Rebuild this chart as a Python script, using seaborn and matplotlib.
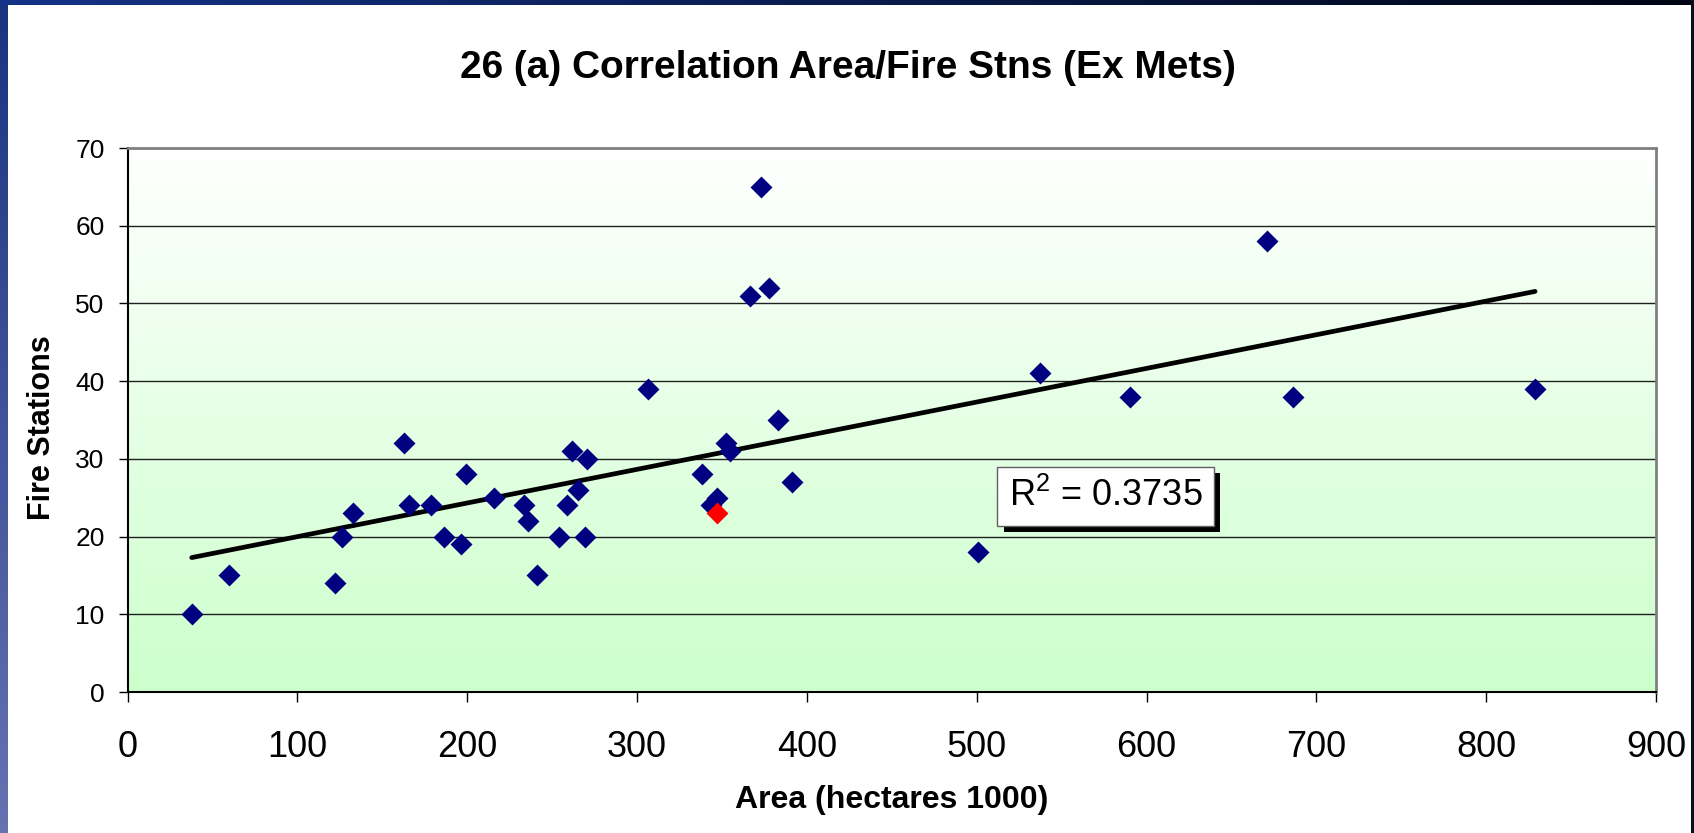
import numpy as np
import pandas as pd
import matplotlib
matplotlib.use("Agg")
import matplotlib.pyplot as plt
import seaborn as sns
from matplotlib import patheffects as pe

# ---------------- data ----------------
area = [37.8, 59.6, 122.4, 126.1, 132.6, 163.0, 165.8, 178.5, 186.2, 196.4,
        199.1, 215.6, 233.5, 236.1, 241.1, 253.9, 259.0, 261.6, 265.5, 269.5,
        270.6, 306.5, 338.5, 343.6, 347.3, 352.2, 354.8, 366.5, 373.0, 377.9,
        383.2, 391.1, 500.6, 537.5, 590.3, 671.1, 686.4, 828.8]
stations = [10, 15, 14, 20, 23, 32, 24, 24, 20, 19,
            28, 25, 24, 22, 15, 20, 24, 31, 26, 20,
            30, 39, 28, 24, 25, 32, 31, 51, 65, 52,
            35, 27, 18, 41, 38, 58, 38, 39]
highlight_area = [347.3]
highlight_stations = [23]

x_ticks = [0, 100, 200, 300, 400, 500, 600, 700, 800, 900]
y_ticks = [0, 10, 20, 30, 40, 50, 60, 70]

title = "26 (a) Correlation Area/Fire Stns (Ex Mets)"
x_label = "Area (hectares 1000)"
y_label = "Fire Stations"
r2_label = r"R$^{2}$ = 0.3735"

df = pd.DataFrame({"area": area, "stations": stations})
df_hl = pd.DataFrame({"area": highlight_area, "stations": highlight_stations})

# ---------------- style ----------------
sns.set_style("white")
plt.rcParams["font.family"] = ["Liberation Sans", "DejaVu Sans"]
plt.rcParams["text.color"] = "black"
plt.rcParams["mathtext.fontset"] = "custom"
plt.rcParams["mathtext.rm"] = "Liberation Sans"
plt.rcParams["mathtext.it"] = "Liberation Sans:italic"
plt.rcParams["mathtext.bf"] = "Liberation Sans:bold"

W, H = 1694, 833
fig = plt.figure(figsize=(W / 100, H / 100), dpi=100)

# slide frame (decorative background)
bg = fig.add_axes([0, 0, 1, 1], zorder=-10)
bg.set_axis_off()
img = np.ones((H, W, 3))
left_col = np.linspace(0, 1, H)[:, None]
img[:, :8, 0] = 0.10 + 0.30 * left_col
img[:, :8, 1] = 0.20 + 0.25 * left_col
img[:, :8, 2] = 0.50 + 0.20 * left_col
top_row = np.linspace(0, 1, W)[None, :]
img[:5, :, 0] = 0.08 * (1 - top_row)
img[:5, :, 1] = 0.18 * (1 - top_row) + 0.02
img[:5, :, 2] = 0.45 * (1 - top_row) + 0.08
img[:, 1690:, :] = np.array([0.04, 0.06, 0.12])
bg.imshow(img, extent=[0, 1, 0, 1], aspect="auto")
bg.set_xlim(0, 1)
bg.set_ylim(0, 1)

ax = fig.add_axes([127.5 / W, 1 - 692 / H, (1656 - 127.5) / W, (692 - 148) / H])

# gradient plot area: white top -> light green bottom
grad = np.linspace(0, 1, 256)[:, None]
gimg = np.zeros((256, 1, 3))
gimg[:, 0, 0] = 1 - 0.20 * grad[:, 0]
gimg[:, 0, 1] = 1.0
gimg[:, 0, 2] = 1 - 0.20 * grad[:, 0]
ax.imshow(gimg, extent=[0, 1, 0, 1], transform=ax.transAxes, aspect="auto",
          zorder=0, interpolation="bilinear")

sns.regplot(data=df, x="area", y="stations", scatter=False, ci=None,
            truncate=True, color="black",
            line_kws=dict(lw=3.4, solid_capstyle="round", zorder=3), ax=ax)
sns.scatterplot(data=df, x="area", y="stations", marker="D", s=125,
                color="#000080", linewidth=0, ax=ax, zorder=4)
sns.scatterplot(data=df_hl, x="area", y="stations", marker="D", s=125,
                color="#ff0000", linewidth=0, ax=ax, zorder=4)

ax.set_xlim(0, 900)
ax.set_ylim(0, 70)
ax.set_xticks(x_ticks)
ax.set_yticks(y_ticks)
ax.set_xticklabels([str(v) for v in x_ticks])
ax.set_yticklabels([str(v) for v in y_ticks])
ax.set_xlabel("")
ax.set_ylabel("")

ax.set_axisbelow(True)
ax.grid(axis="y", color="#202020", lw=1.0)
ax.grid(axis="x", visible=False)

for s in ("left", "bottom"):
    ax.spines[s].set_color("black")
    ax.spines[s].set_linewidth(1.5)
for s in ("top", "right"):
    ax.spines[s].set_color("#808080")
    ax.spines[s].set_linewidth(2)

ax.tick_params(axis="x", bottom=True, direction="out", length=7.2, width=1,
               labelsize=26, pad=20, colors="black")
ax.tick_params(axis="y", left=True, direction="out", length=6.5, width=1,
               labelsize=19, pad=10, colors="black")

t = ax.text(576, 25.2, r2_label, fontsize=26, ha="center", va="center",
            zorder=6, color="black",
            bbox=dict(boxstyle="square,pad=0.32", fc="white", ec="#606060", lw=1))
t.get_bbox_patch().set_path_effects([
    pe.SimplePatchShadow(offset=(4.5, -4.5), shadow_rgbFace="black", alpha=1.0),
    pe.Normal()])

fig.text(0.5006, 1 - 68 / H, title, fontsize=28, fontweight="bold",
         ha="center", va="center", color="black")
fig.text(892 / W, 1 - 800 / H, x_label, fontsize=23, fontweight="bold",
         ha="center", va="center", color="black")
fig.text(42.5 / W, 1 - 428 / H, y_label, fontsize=22, fontweight="bold",
         ha="center", va="center", rotation=90, color="black")

fig.savefig("out.png", dpi=100)
